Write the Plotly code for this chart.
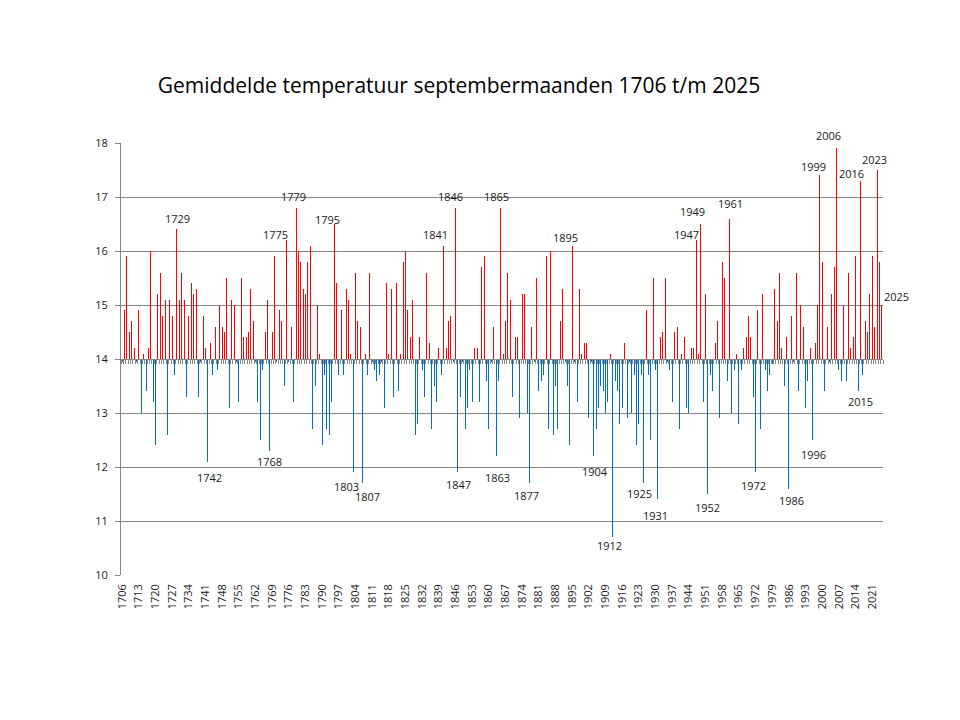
import plotly.graph_objects as go

start_year = 1706
temps = [
    13.95, 14.9, 15.9, 14.5, 14.7, 14.2, 13.95, 14.9, 13.0, 14.1,   # 1706-1715
    13.4, 14.2, 16.0, 13.2, 12.4, 15.2, 15.6, 14.8, 15.1, 12.6,     # 1716-1725
    15.1, 14.8, 13.7, 16.4, 15.1, 15.6, 15.1, 13.3, 14.8, 15.4,     # 1726-1735
    15.2, 15.3, 13.3, 13.95, 14.8, 14.2, 12.1, 14.3, 13.7, 14.6,    # 1736-1745
    13.8, 15.0, 14.6, 14.5, 15.5, 13.1, 15.1, 15.0, 13.95, 13.2,    # 1746-1755
    15.5, 14.4, 14.4, 14.5, 15.3, 14.7, 13.95, 13.2, 12.5, 13.8,    # 1756-1765
    14.5, 15.1, 12.3, 14.5, 15.9, 13.95, 14.9, 14.7, 13.5, 16.2,    # 1766-1775
    13.95, 14.6, 13.2, 16.8, 16.0, 15.8, 15.3, 15.2, 15.8, 16.1,    # 1776-1785
    12.7, 13.5, 15.0, 14.1, 12.4, 13.7, 12.7, 12.6, 13.2, 16.5,     # 1786-1795
    15.4, 13.7, 14.9, 13.7, 15.3, 15.1, 14.1, 11.9, 15.6, 14.7,     # 1796-1805
    14.6, 11.7, 14.1, 13.7, 15.6, 13.95, 13.8, 13.6, 13.7, 13.95,   # 1806-1815
    13.1, 15.4, 14.1, 15.3, 13.3, 15.4, 13.4, 14.1, 15.8, 16.0,     # 1816-1825
    14.9, 14.4, 15.1, 12.6, 12.8, 14.4, 13.8, 13.3, 15.6, 14.3,     # 1826-1835
    12.7, 13.5, 13.2, 14.2, 13.7, 16.1, 14.2, 14.7, 14.8, 13.95,    # 1836-1845
    16.8, 11.9, 13.3, 13.95, 12.7, 13.1, 13.8, 13.2, 14.2, 14.2,    # 1846-1855
    13.2, 15.7, 15.9, 13.6, 12.7, 13.95, 14.6, 12.2, 13.6, 16.8,    # 1856-1865
    14.1, 14.7, 15.6, 15.1, 13.3, 14.4, 14.4, 12.9, 15.2, 15.2,     # 1866-1875
    13.0, 11.7, 14.6, 13.95, 15.5, 13.4, 13.6, 13.7, 15.9, 12.7,    # 1876-1885
    16.0, 12.6, 13.5, 12.7, 14.7, 15.3, 13.95, 13.5, 12.4, 16.1,    # 1886-1895
    13.95, 13.2, 15.3, 14.1, 14.3, 14.3, 12.9, 13.95, 12.2, 12.7,   # 1896-1905
    13.1, 13.5, 13.4, 13.0, 13.2, 14.1, 10.7, 13.6, 13.4, 12.8,     # 1906-1915
    13.1, 14.3, 12.9, 13.95, 13.0, 13.7, 12.4, 12.8, 13.7, 11.7,    # 1916-1925
    14.9, 13.7, 12.5, 15.5, 13.8, 11.4, 14.4, 14.5, 15.5, 13.95,    # 1926-1935
    13.8, 13.2, 14.5, 14.6, 12.7, 14.1, 14.4, 13.1, 13.0, 14.2,     # 1936-1945
    14.2, 16.2, 14.1, 16.5, 13.2, 15.2, 11.5, 13.7, 13.4, 14.3,     # 1946-1955
    14.7, 12.9, 15.8, 15.5, 13.6, 16.6, 13.0, 13.8, 14.1, 12.8,     # 1956-1965
    13.8, 14.2, 14.4, 14.8, 14.4, 13.3, 11.9, 14.9, 12.7, 15.2,     # 1966-1975
    13.8, 13.4, 13.7, 13.9, 15.3, 14.7, 15.6, 14.2, 13.5, 14.4,     # 1976-1985
    11.6, 14.8, 13.95, 15.6, 13.4, 15.0, 14.6, 13.1, 13.6, 14.2,    # 1986-1995
    12.5, 14.3, 15.0, 17.4, 15.8, 13.4, 14.6, 13.95, 15.2, 15.7,    # 1996-2005
    17.9, 13.8, 13.6, 15.0, 13.6, 15.6, 14.2, 14.4, 15.9, 13.4,     # 2006-2015
    17.3, 13.7, 14.7, 14.5, 15.2, 15.9, 14.6, 17.5, 15.8, 15.0,     # 2016-2025
]
years = list(range(start_year, start_year + len(temps)))
baseline = 14.0

label_years = [1729, 1742, 1768, 1775, 1779, 1795, 1803, 1807, 1841, 1846,
               1847, 1863, 1865, 1877, 1895, 1904, 1912, 1925, 1931, 1947,
               1949, 1952, 1961, 1972, 1986, 1996, 1999, 2006, 2015, 2016,
               2023, 2025]
# screen offsets (px) of the data labels relative to the bar end: (dx, dy down)
label_offsets = {
    1729: (1, -11), 1742: (2, 16), 1768: (0, 11), 1775: (-11, -6), 1779: (-3, -11),
    1795: (-7, -5), 1803: (-7, 14), 1807: (5, 13), 1841: (-8, -11), 1846: (-5, -11),
    1847: (1, 12), 1863: (1, 21), 1865: (-4, -11), 1877: (-3, 12), 1895: (-7, -8),
    1904: (1, 15), 1912: (-3, 8), 1925: (-4, 10), 1931: (-2, 16), 1947: (-10, -6),
    1949: (-8, -13), 1952: (0, 13), 1961: (1, -15), 1972: (-2, 13), 1986: (3, 12),
    1996: (1, 14), 1999: (-6, -9), 2006: (-8, -13), 2015: (2, 10), 2016: (-9, -7),
    2023: (-3, -11), 2025: (15, -9),
}

tick_years = list(range(1706, 2022, 7))
y_ticks = list(range(10, 19))
title_text = "Gemiddelde temperatuur septembermaanden 1706 t/m 2025"

FONT = "Open Sans"
GRID = "#878787"
# alpha slightly below 1 makes plotly snap bar edges to whole pixels (crisp 1px bars)
RED = "rgba(255,0,0,0.999)"
BLUE = "rgba(0,112,192,0.999)"

colors = [RED if t >= baseline else BLUE for t in temps]

fig = go.Figure()
fig.add_trace(go.Bar(
    x=years,
    y=[round(t - baseline, 3) for t in temps],
    base=baseline,
    width=0.42,
    marker=dict(color=colors, line=dict(width=0)),
    showlegend=False,
    hoverinfo="skip",
))
# invisible trace to activate the baseline category axis
fig.add_trace(go.Scatter(x=[years[0]], y=[baseline], xaxis="x2", mode="markers",
                         marker=dict(opacity=0), showlegend=False, hoverinfo="skip"))

annotations = []
for yr in label_years:
    v = temps[yr - start_year]
    dx, dy = label_offsets[yr]
    annotations.append(dict(
        x=yr, y=v, xref="x", yref="y", text=str(yr), showarrow=False,
        xshift=dx, yshift=-dy, font=dict(family=FONT, size=11, color="#1a1a1a"),
    ))

x_range = [start_year - 0.5, years[-1] + 0.5]

fig.update_layout(
    width=960, height=720,
    margin=dict(l=121, r=77, t=143, b=145),
    paper_bgcolor="white", plot_bgcolor="white",
    bargap=0, bargroupgap=0,
    title=dict(text=title_text, x=459 / 960, xref="container", xanchor="center",
               y=1 - 86 / 720, yref="container", yanchor="middle",
               font=dict(family=FONT, size=21, color="#000000")),
    xaxis=dict(
        range=x_range, tickmode="array", tickvals=tick_years,
        ticktext=[str(t) for t in tick_years], tickangle=-90,
        showgrid=False, zeroline=False, showline=False, ticks="",
        ticklabelstandoff=6,
        tickfont=dict(family=FONT, size=11, color="#1a1a1a"),
    ),
    xaxis2=dict(
        range=x_range, overlaying="x", anchor="free", position=0.5,
        tickmode="linear", tick0=start_year - 0.5, dtick=1,
        ticks="outside", ticklen=4, tickcolor=GRID, tickwidth=1,
        showticklabels=False, showgrid=False, zeroline=False,
        showline=True, linecolor=GRID, linewidth=1,
    ),
    yaxis=dict(
        range=[10, 18], tickmode="array", tickvals=y_ticks,
        showgrid=True, gridcolor=GRID, gridwidth=1, zeroline=False,
        showline=True, linecolor=GRID, linewidth=1,
        ticks="outside", ticklen=5, tickcolor=GRID,
        ticklabelstandoff=5,
        tickfont=dict(family=FONT, size=11, color="#1a1a1a"),
    ),
    annotations=annotations,
)

fig.write_html("out.html")
